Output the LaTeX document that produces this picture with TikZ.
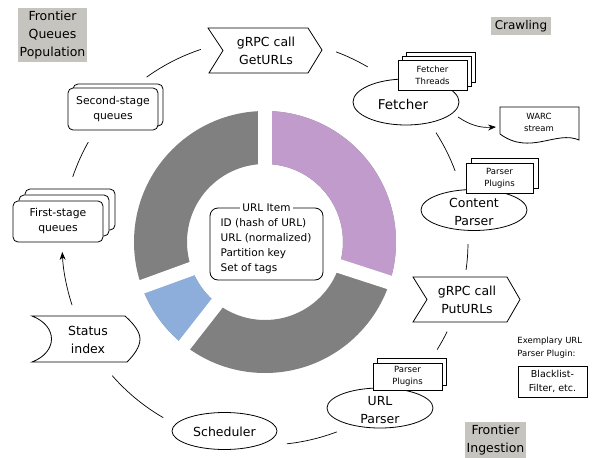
\documentclass[tikz,border=0pt]{standalone}
\usepackage{fontspec}
\setmainfont{DejaVu Sans}
\usetikzlibrary{arrows.meta,shapes.geometric}
\definecolor{ringgray}{RGB}{128,128,128}
\definecolor{ringpurple}{RGB}{192,155,203}
\definecolor{ringblue}{RGB}{141,174,218}
\definecolor{tagfill}{RGB}{197,196,191}
\begin{document}
\begin{tikzpicture}[x=1pt,y=-1pt, line width=0.8pt,
  big/.style={font=\fontsize{12.5}{18}\selectfont, align=center},
  small/.style={font=\fontsize{8.5}{12}\selectfont, align=center},
  ellbox/.style={draw, ellipse, inner sep=0pt},
  tagbox/.style={fill=tagfill, align=center, inner sep=1pt, font=\fontsize{12.5}{18}\selectfont},
  conn/.style={line width=0.7pt},
  plug/.style={draw, fill=white},
  plugnode/.style={draw, fill=white, inner sep=1pt, font=\fontsize{8.5}{12}\selectfont, align=center},
  queue/.style={draw, fill=white, rounded corners=5pt},
  queuenode/.style={draw, fill=white, rounded corners=5pt, inner sep=1pt, font=\fontsize{10.8}{15}\selectfont, align=center}]
\useasboundingbox (0,0) rectangle (595,458);

% ---------- ring ----------
\coordinate (ctr) at (265,242);
\fill[ringgray, even odd rule] (ctr) circle[radius=131] (ctr) circle[radius=78];
\fill[ringpurple] ([shift={(ctr)}]-90:131) arc[start angle=-90,end angle=18,radius=131]
   -- ([shift={(ctr)}]18:78) arc[start angle=18,end angle=-90,radius=78] -- cycle;
\fill[ringblue] ([shift={(ctr)}]128:131) arc[start angle=128,end angle=160,radius=131]
   -- ([shift={(ctr)}]160:78) arc[start angle=160,end angle=128,radius=78] -- cycle;
\foreach \a in {-90,18,128,160} \draw[white, line width=14pt] (ctr) -- ++(\a:140);

% ---------- URL item ----------
\node[draw, rounded corners=8pt, minimum width=113pt, minimum height=72pt] (item) at (266.5,244) {};
\node[font=\fontsize{10.5}{15}\selectfont, align=left] (itemtext) at (266,246)
  {ID (hash of URL)\\URL (normalized)\\Partition key\\Set of tags};
\node[fill=white, inner sep=2pt, font=\fontsize{10.5}{15}\selectfont] (itemtitle) at (item.north) {URL Item};

% ---------- title tags ----------
\node[tagbox, minimum width=69pt, minimum height=54pt] (tqp) at (52.5,35) {Frontier\\Queues\\Population};
\node[tagbox, minimum width=60pt, minimum height=18pt, font=\fontsize{12}{14}\selectfont] (tcr) at (521,26) {Crawling};
\node[tagbox, minimum width=61pt, minimum height=36pt] (tfi) at (495.5,440) {Frontier\\Ingestion};

% ---------- gRPC GetURLs ----------
\draw (208,28) -- (308,28) -- (322,50) -- (308,73) -- (209,73) -- (223,50.5) -- cycle;
\node[big] (get) at (266,51) {gRPC call\\GetURLs};

% ---------- gRPC PutURLs ----------
\draw (413,277) -- (507,277) -- (520,299.5) -- (507,322) -- (413,322) -- (427,299.5) -- cycle;
\node[big] (put) at (467,300) {gRPC call\\PutURLs};

% ---------- Fetcher ----------
\node[ellbox, minimum width=106pt, minimum height=46pt] (fetcher) at (406,102) {};
\foreach \d in {8,4} \draw[plug] (398+\d,60-\d) rectangle (467+\d,90-\d);
\node[plugnode, minimum width=69pt, minimum height=30pt] (fthreads) at (432.5,75) {Fetcher\\Threads};
\node[font=\fontsize{13.5}{18}\selectfont] (fetchtxt) at (403,104) {Fetcher};

% ---------- WARC ----------
\draw (500,107) -- (579,107) -- (579,140) .. controls (556,130) and (530,156) .. (500,134) -- cycle;
\node[small] (warc) at (539,122) {WARC\\stream};
\coordinate (fw1) at (458,117);
\coordinate (fw2) at (496,127);
\draw[conn, -{Stealth[length=8pt,width=6pt]}] (fw1) .. controls (470,125) and (480,128) .. (fw2);

% ---------- Content Parser ----------
\node[ellbox, minimum width=106pt, minimum height=41pt] (cparser) at (474,210) {};
\draw[plug] (471,158) rectangle (538,188);
\node[plugnode, minimum width=67pt, minimum height=30pt] (cplug) at (499.5,178) {Parser\\Plugins};
\node[big] (cptxt) at (474,212) {Content\\Parser};

% ---------- URL Parser ----------
\node[ellbox, minimum width=106pt, minimum height=40pt] (uparser) at (380,408) {};
\draw[plug] (377,358) rectangle (446,385);
\node[plugnode, minimum width=69pt, minimum height=27pt] (uplug) at (407.5,376.5) {Parser\\Plugins};
\node[big] (uptxt) at (380,410) {URL\\Parser};

% ---------- Exemplary plugin ----------
\node[font=\fontsize{8.5}{13}\selectfont, align=left, anchor=north west, inner sep=0pt] (exem) at (517,337) {Exemplary URL\\Parser Plugin:};
\node[draw, minimum width=69pt, minimum height=31pt, inner sep=1pt, font=\fontsize{9.5}{14}\selectfont, align=center] (black) at (552.5,381.5) {Blacklist-\\Filter, etc.};

% ---------- Scheduler ----------
\node[ellbox, minimum width=105pt, minimum height=37pt] (sched) at (224.5,431) {};
\node[font=\fontsize{12.5}{16}\selectfont] (schedtxt) at (224.5,432) {Scheduler};

% ---------- Status index ----------
\draw (32,316) -- (125,316) .. controls (134,324) and (140,332) .. (140,339)
   .. controls (140,347) and (134,355) .. (127,362) -- (32,362)
   .. controls (58,352) and (58,326) .. (32,316) -- cycle;
\node[big] (status) at (88,340) {Status\\index};

% ---------- First-stage queues ----------
\draw[queue] (25,189) rectangle (115,230);
\draw[queue] (19,195) rectangle (109,236);
\node[queuenode, minimum width=90pt, minimum height=41pt] (first) at (58,221.5) {First-stage\\queues};

% ---------- Second-stage queues ----------
\draw[queue] (73,84) rectangle (163,126);
\node[queuenode, minimum width=90pt, minimum height=42pt] (second) at (113,109) {Second-stage\\queues};

% ---------- circular connectors ----------
\foreach \n/\a/\b in {c1/-125.7/-108.4, c2/-69.5/-59.6, c3/-32.6/-20.5, c4/0.6/7.9, c5/26.2/32, c6/69.3/83.8, c7/120.1/138.8, c9/-161.3/-150.5}{
  \coordinate (\n) at ([shift={(ctr)}]\a:203);
  \draw[conn] (\n) arc[start angle=\a, end angle=\b, radius=203];
}
\coordinate (c8) at ([shift={(ctr)}]161.9:203);
\draw[conn, -{Stealth[length=8pt,width=6pt]}] (c8) arc[start angle=161.9, end angle=177.2, radius=203];
\end{tikzpicture}
\end{document}
